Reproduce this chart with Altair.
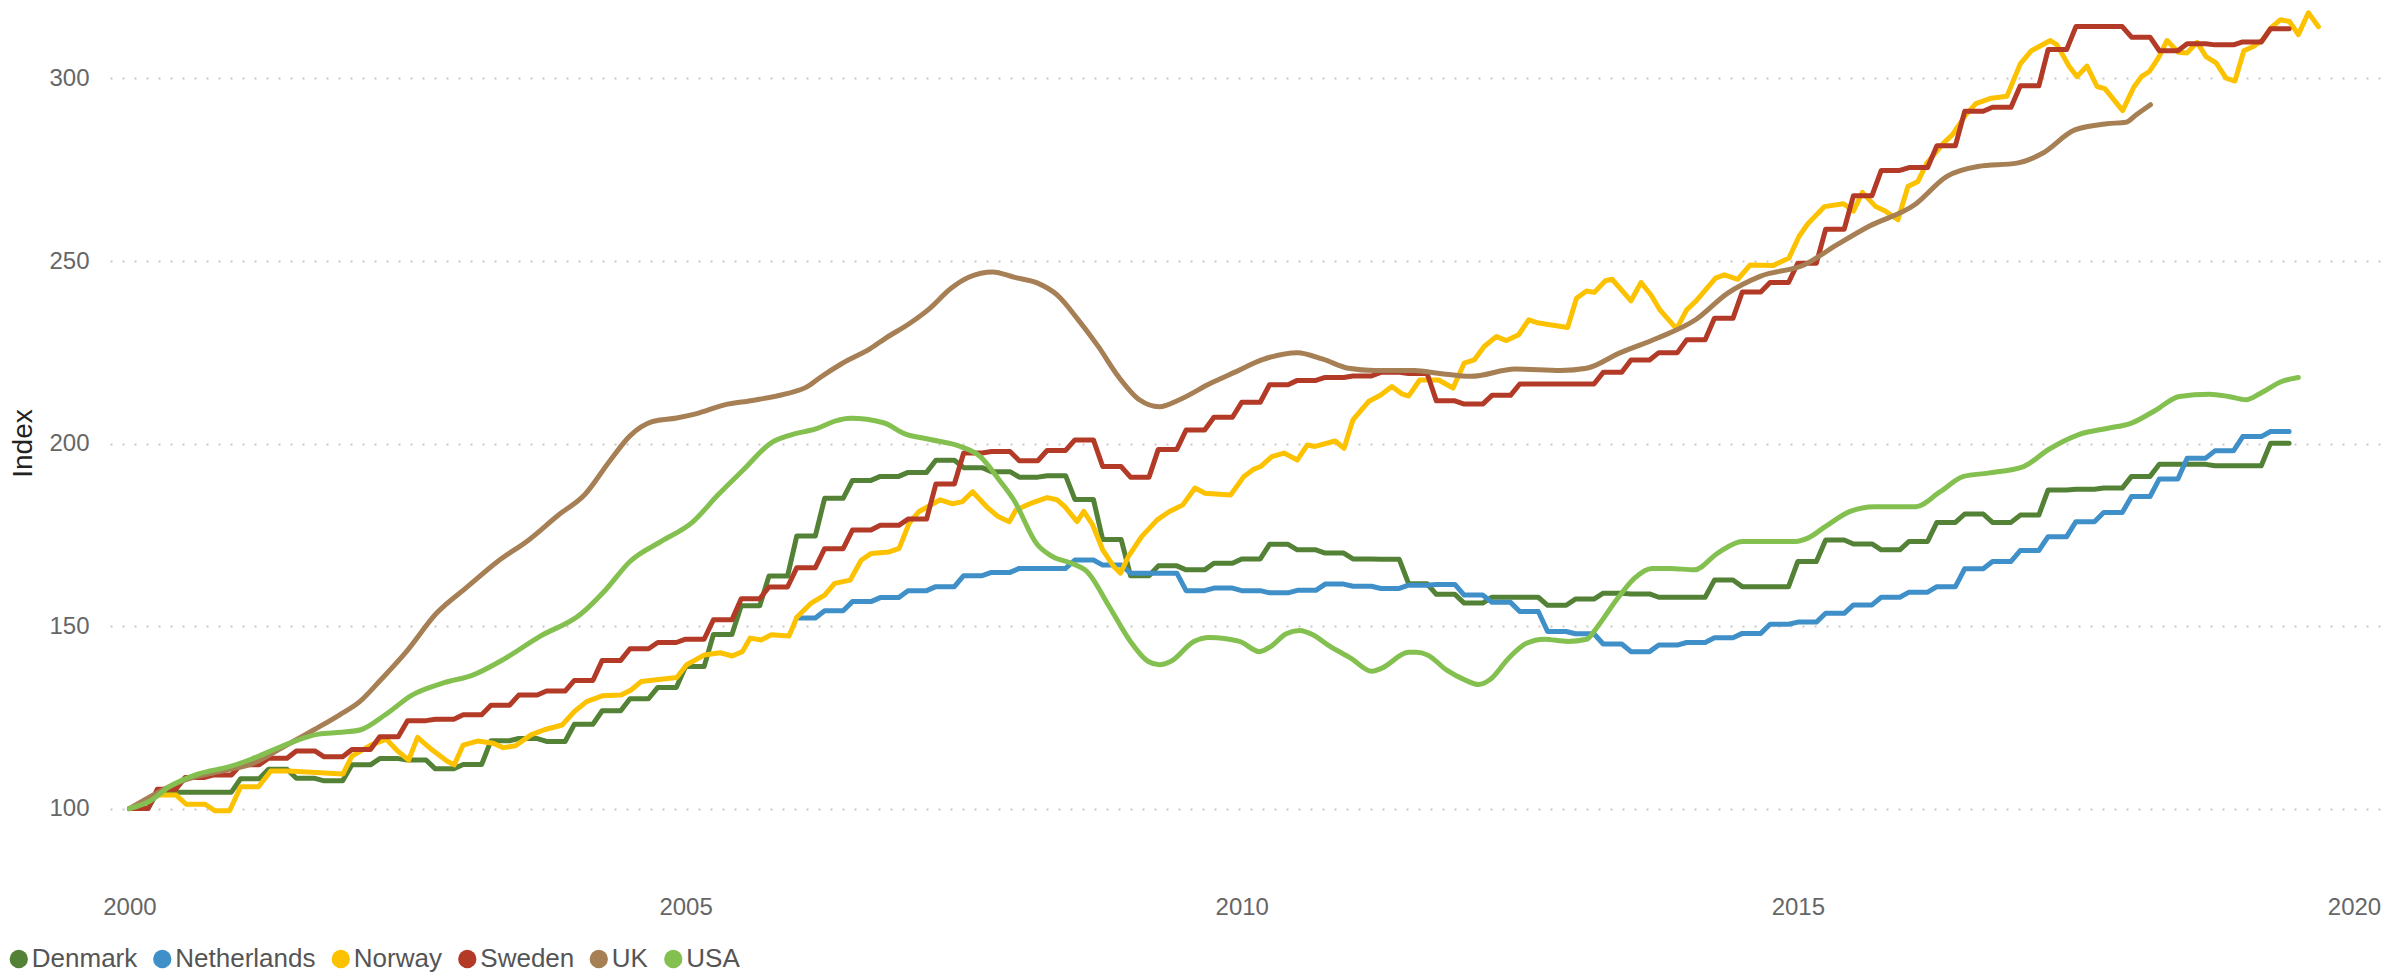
import altair as alt
import pandas as pd

countries = ["Denmark", "Netherlands", "Norway", "Sweden", "UK", "USA"]
colors = ["#538135", "#3f8fc8", "#fcc200", "#b23a27", "#a67f55", "#84c050"]
widths = [5, 5, 4.5, 5, 5, 5]

# Quarterly index values (start of series given separately)
denmark_q = [
    100.0, 104.5, 104.5, 104.5,
    108.2, 110.8, 108.3, 107.6,
    112.0, 113.7, 113.3, 110.9,
    112.1, 118.6, 119.2, 118.4,
    123.1, 126.8, 130.1, 133.2,
    138.9, 147.7, 155.6, 163.7,
    174.7, 185.0, 189.9, 191.0,
    192.1, 195.4, 193.4, 192.3,
    190.8, 191.2, 184.7, 173.7,
    163.8, 166.5, 165.4, 167.2,
    168.4, 172.4, 170.9, 170.0,
    168.4, 168.3, 161.6, 158.7,
    156.3, 157.9, 157.9, 155.7,
    157.4, 159.0, 158.8, 157.9,
    157.9, 162.6, 160.8, 160.8,
    167.7, 173.6, 172.5, 170.9,
    173.2, 178.4, 180.7, 178.4,
    180.4, 187.3, 187.5, 187.8,
    191.0, 194.3, 194.3, 193.9,
    193.9, 200.1,
]
denmark_start = 2000.0

sweden_q = [
    100.0, 105.3, 108.5, 109.2,
    112.0, 113.8, 115.8, 114.2,
    116.2, 119.7, 124.1, 124.5,
    125.7, 128.3, 131.1, 132.2,
    135.1, 140.6, 143.8, 145.5,
    146.4, 151.7, 157.5, 160.7,
    166.0, 171.2, 176.3, 177.6,
    179.3, 188.9, 197.4, 197.8,
    195.3, 198.1, 201.0, 193.7,
    190.8, 198.4, 203.7, 207.2,
    211.3, 216.1, 217.3, 218.1,
    218.5, 219.5, 219.2, 211.7,
    210.8, 213.2, 216.3, 216.3,
    216.3, 219.5, 222.9, 224.9,
    228.4, 234.3, 241.5, 244.1,
    249.4, 258.7, 267.9, 274.8,
    275.6, 281.6, 291.0, 292.1,
    298.0, 307.9, 314.2, 314.2,
    311.3, 307.6, 309.5, 309.2,
    310.0, 313.6,
]
sweden_start = 2000.0

netherlands_q = [
    152.2, 154.2, 156.7, 157.8,
    159.7, 160.8, 163.8, 164.7,
    165.8, 165.8, 168.1, 166.7,
    164.5, 164.5, 159.7, 160.4,
    159.7, 159.1, 159.8, 161.5,
    160.9, 160.3, 161.2, 161.4,
    158.5, 156.5, 154.0, 148.5,
    147.9, 145.1, 143.0, 144.8,
    145.5, 146.8, 148.0, 150.5,
    151.1, 153.5, 155.8, 157.9,
    159.3, 160.8, 165.7, 167.7,
    170.7, 174.5, 178.6, 181.1,
    185.5, 190.3, 196.0, 198.0,
    201.9, 203.3,
]
netherlands_start = 2006.0

norway_t = [
    2000.0, 2000.26, 2000.42, 2000.51, 2000.68, 2000.77, 2000.9, 2001.0, 2001.16, 2001.27,
    2001.43, 2001.92, 2002.0, 2002.17, 2002.31, 2002.4, 2002.51, 2002.59, 2002.72, 2002.86,
    2002.92, 2003.0, 2003.13, 2003.27, 2003.36, 2003.47, 2003.61, 2003.73, 2003.89, 2004.0,
    2004.11, 2004.25, 2004.42, 2004.51, 2004.6, 2004.74, 2004.92, 2005.01, 2005.17, 2005.31,
    2005.42, 2005.51, 2005.58, 2005.68, 2005.77, 2005.93, 2006.0, 2006.13, 2006.25, 2006.34,
    2006.48, 2006.58, 2006.67, 2006.83, 2006.92, 2007.01, 2007.1, 2007.29, 2007.4, 2007.49,
    2007.58, 2007.72, 2007.81, 2007.91, 2007.97, 2008.11, 2008.25, 2008.34, 2008.41, 2008.52,
    2008.58, 2008.66, 2008.75, 2008.85, 2008.91, 2008.98, 2009.1, 2009.24, 2009.35, 2009.47,
    2009.58, 2009.67, 2009.9, 2010.02, 2010.11, 2010.17, 2010.27, 2010.38, 2010.5, 2010.59,
    2010.66, 2010.84, 2010.92, 2011.0, 2011.14, 2011.25, 2011.35, 2011.44, 2011.5, 2011.6,
    2011.77, 2011.9, 2012.0, 2012.09, 2012.18, 2012.29, 2012.38, 2012.49, 2012.58, 2012.67,
    2012.93, 2013.01, 2013.1, 2013.17, 2013.27, 2013.33, 2013.5, 2013.59, 2013.68, 2013.76,
    2013.91, 2014.0, 2014.08, 2014.26, 2014.34, 2014.46, 2014.57, 2014.78, 2014.92, 2015.01,
    2015.09, 2015.24, 2015.41, 2015.5, 2015.58, 2015.7, 2015.79, 2015.9, 2015.99, 2016.08,
    2016.16, 2016.31, 2016.39, 2016.51, 2016.6, 2016.74, 2016.88, 2016.94, 2017.0, 2017.1,
    2017.27, 2017.33, 2017.44, 2017.51, 2017.6, 2017.69, 2017.76, 2017.92, 2018.02, 2018.09,
    2018.16, 2018.24, 2018.32, 2018.42, 2018.5, 2018.59, 2018.67, 2018.76, 2018.85, 2018.93,
    2019.01, 2019.1, 2019.18, 2019.25, 2019.34, 2019.42, 2019.5, 2019.59, 2019.68,
]
norway_v = [
    100.0, 103.7, 103.7, 101.2, 101.2, 99.4, 99.4, 106.0, 106.0, 110.3,
    110.3, 109.5, 114.4, 117.4, 119.0, 116.1, 113.3, 119.5, 116.1, 112.9,
    112.0, 117.4, 118.5, 117.9, 116.7, 117.2, 120.2, 121.6, 122.9, 126.6,
    129.3, 130.9, 131.1, 132.5, 134.8, 135.3, 135.9, 139.4, 142.1, 142.7,
    141.8, 143.0, 146.7, 146.2, 147.6, 147.3, 152.4, 156.3, 158.5, 161.7,
    162.6, 168.1, 169.9, 170.3, 171.3, 178.2, 181.4, 184.6, 183.5, 184.1,
    186.8, 182.3, 180.0, 178.6, 181.8, 183.7, 185.2, 184.6, 182.7, 178.6,
    181.4, 177.7, 170.9, 166.3, 164.5, 169.0, 174.5, 179.1, 181.4, 183.2,
    187.8, 186.4, 185.9, 191.0, 193.0, 193.7, 196.4, 197.4, 195.5, 199.6,
    199.2, 200.7, 198.7, 206.5, 211.5, 213.3, 215.6, 213.6, 213.0, 217.4,
    217.4, 215.2, 222.0, 222.9, 226.6, 229.3, 228.2, 229.8, 233.9, 233.0,
    231.8, 239.8, 241.8, 241.4, 244.6, 245.0, 239.1, 244.1, 240.7, 236.6,
    231.4, 236.6, 238.9, 245.3, 246.2, 245.0, 248.9, 248.8, 250.8, 256.7,
    260.2, 264.9, 265.7, 263.7, 268.8, 264.9, 263.6, 261.3, 270.4, 271.8,
    276.8, 282.3, 284.6, 290.0, 293.1, 294.6, 295.1, 299.6, 304.0, 307.6,
    310.4, 309.2, 303.3, 300.5, 303.4, 297.8, 297.2, 291.2, 297.6, 300.5,
    301.9, 305.6, 310.4, 307.2, 307.0, 309.9, 306.0, 304.3, 300.1, 299.3,
    307.6, 308.8, 310.6, 313.8, 316.1, 315.6, 312.0, 318.0, 314.2,
]

uk_t = [
    2000.0, 2000.5, 2000.88, 2001.11, 2001.39, 2001.66, 2001.89, 2002.07, 2002.26, 2002.49,
    2002.76, 2003.04, 2003.31, 2003.59, 2003.86, 2004.09, 2004.32, 2004.5, 2004.7, 2004.92,
    2005.1, 2005.35, 2005.6, 2005.9, 2006.09, 2006.2, 2006.41, 2006.66, 2006.8, 2007.01,
    2007.18, 2007.39, 2007.55, 2007.76, 2007.96, 2008.16, 2008.34, 2008.52, 2008.71, 2008.89,
    2009.08, 2009.26, 2009.44, 2009.72, 2009.95, 2010.18, 2010.5, 2010.73, 2010.96, 2011.19,
    2011.55, 2011.78, 2012.06, 2012.46, 2012.87, 2013.1, 2013.39, 2013.74, 2014.08, 2014.37,
    2014.66, 2015.06, 2015.35, 2015.64, 2016.05, 2016.34, 2016.62, 2016.97, 2017.2, 2017.49,
    2017.78, 2017.95, 2018.04, 2018.17,
]
uk_v = [
    100.0, 107.9, 110.6, 112.4, 117.0, 121.6, 125.7, 129.3, 135.3, 143.0,
    153.5, 160.8, 167.7, 173.6, 180.5, 185.9, 195.3, 202.1, 206.0, 207.0,
    208.2, 210.6, 211.8, 213.6, 215.5, 217.9, 222.0, 226.0, 228.9, 232.8,
    236.6, 242.6, 245.6, 247.0, 245.5, 244.0, 240.7, 234.3, 226.6, 218.4,
    212.0, 210.1, 212.0, 216.5, 219.7, 222.9, 224.9, 223.1, 220.6, 220.0,
    220.0, 219.2, 218.4, 220.4, 220.0, 220.6, 224.7, 228.9, 233.9, 241.2,
    245.8, 249.0, 254.4, 259.5, 265.4, 273.2, 275.9, 276.8, 279.5, 285.9,
    287.6, 288.0, 290.0, 292.8,
]

usa_t = [
    2000.0, 2000.18, 2000.36, 2000.62, 2000.9, 2001.1, 2001.38, 2001.7, 2001.91, 2002.08,
    2002.3, 2002.54, 2002.83, 2003.08, 2003.37, 2003.69, 2004.05, 2004.28, 2004.5, 2004.78,
    2005.06, 2005.29, 2005.52, 2005.77, 2005.95, 2006.17, 2006.35, 2006.48, 2006.78, 2006.96,
    2007.2, 2007.47, 2007.65, 2007.82, 2007.95, 2008.16, 2008.3, 2008.47, 2008.61, 2008.81,
    2008.99, 2009.16, 2009.26, 2009.36, 2009.57, 2009.71, 2009.98, 2010.16, 2010.26, 2010.4,
    2010.52, 2010.64, 2010.78, 2010.98, 2011.17, 2011.26, 2011.5, 2011.57, 2011.67, 2011.84,
    2012.01, 2012.13, 2012.23, 2012.4, 2012.56, 2012.72, 2012.93, 2013.1, 2013.2, 2013.37,
    2013.53, 2013.69, 2013.85, 2014.07, 2014.28, 2014.5, 2014.77, 2014.98, 2015.09, 2015.25,
    2015.47, 2015.69, 2016.06, 2016.28, 2016.49, 2016.71, 2017.03, 2017.25, 2017.52, 2017.79,
    2018.0, 2018.22, 2018.43, 2018.7, 2018.87, 2019.03, 2019.16, 2019.35, 2019.5,
]
usa_v = [
    100.0, 102.0, 106.0, 109.5, 111.5, 113.6, 117.2, 120.4, 120.9, 121.6,
    125.7, 131.1, 134.5, 136.5, 141.0, 147.2, 153.1, 159.9, 167.7, 173.2,
    178.4, 185.9, 192.8, 200.2, 202.4, 204.0, 206.2, 206.9, 205.7, 202.8,
    201.1, 199.2, 196.4, 190.0, 184.6, 172.4, 169.0, 167.2, 164.9, 155.3,
    146.2, 140.3, 139.4, 140.3, 145.8, 146.9, 145.8, 143.0, 144.4, 147.9,
    148.8, 147.6, 144.7, 141.2, 137.6, 138.5, 142.8, 142.8, 142.1, 138.0,
    135.2, 134.0, 135.3, 141.2, 145.3, 146.4, 145.8, 146.4, 149.9, 157.2,
    163.1, 165.8, 165.8, 165.4, 170.0, 173.2, 173.2, 173.2, 174.1, 177.3,
    181.4, 182.7, 182.7, 186.8, 191.0, 191.9, 193.7, 198.3, 202.4, 204.2,
    205.6, 209.2, 212.9, 213.5, 212.9, 212.0, 213.8, 217.0, 218.1,
]

year_ticks = [2000, 2005, 2010, 2015, 2020]
index_ticks = [100, 150, 200, 250, 300]

# ---- build long table ----
rows = []


def add_quarterly(name, start, vals):
    for i, v in enumerate(vals):
        t0 = start + i / 4
        rows.append({"country": name, "t": t0, "value": v})
        rows.append({"country": name, "t": t0 + 2 / 12, "value": v})


def add_points(name, ts, vs):
    for t, v in zip(ts, vs):
        rows.append({"country": name, "t": t, "value": v})


add_quarterly("Denmark", denmark_start, denmark_q)
add_quarterly("Netherlands", netherlands_start, netherlands_q)
add_points("Norway", norway_t, norway_v)
add_quarterly("Sweden", sweden_start, sweden_q)
df_lin = pd.DataFrame(rows)

rows = []
add_points("UK", uk_t, uk_v)
add_points("USA", usa_t, usa_v)
df_smooth = pd.DataFrame(rows)

FONT = "Liberation Sans"

x_enc = alt.X(
    "t:Q",
    scale=alt.Scale(domain=[1999.825, 2020.234], nice=False, zero=False),
    axis=alt.Axis(
        values=year_ticks, format="d", title=None, grid=False, domain=False,
        ticks=False, tickSize=0, labelPadding=13, labelFontSize=24,
        labelColor="#666666", labelFont=FONT,
    ),
)
y_enc = alt.Y(
    "value:Q",
    scale=alt.Scale(domain=[79.9, 319.3], nice=False, zero=False),
    axis=alt.Axis(
        values=index_ticks, title="Index", grid=True, gridDash=[2, 10],
        gridColor="#c8c8c8", gridWidth=2, domain=False, ticks=False, tickSize=0,
        labelPadding=21, labelFontSize=24, labelColor="#666666", labelFont=FONT,
        titleX=-87, titleY=435, titleAngle=270, titleAlign="center",
        titleBaseline="middle", titleFontSize=28, titleColor="#222222",
        titleFont=FONT, titleFontWeight="normal",
    ),
)
color_scale = alt.Scale(domain=countries, range=colors)
color_line = alt.Color("country:N", scale=color_scale, legend=None)
color_legend = alt.Color(
    "country:N",
    scale=color_scale,
    legend=alt.Legend(
        title=None, orient="none", legendX=-104.2, legendY=938,
        direction="horizontal", symbolType="circle", symbolSize=335,
        symbolStrokeWidth=0, symbolOpacity=1, labelFontSize=26, labelFont=FONT,
        labelColor="#555555", labelOffset=0, columnPadding=11.5, padding=0,
        labelLimit=500,
    ),
)
width_enc = alt.StrokeWidth(
    "country:N", scale=alt.Scale(domain=countries, range=widths), legend=None
)

lin = alt.Chart(df_lin).mark_line(
    interpolate="linear", strokeCap="round", strokeJoin="round"
).encode(x=x_enc, y=y_enc, color=color_line, strokeWidth=width_enc)

smooth = alt.Chart(df_smooth).mark_line(
    interpolate="monotone", strokeCap="round", strokeJoin="round"
).encode(x=x_enc, y=y_enc, color=color_line, strokeWidth=width_enc)

# legend-only layer: filled circles, no rows drawn
legend_layer = alt.Chart(df_smooth).transform_filter("false").mark_circle(
    opacity=1
).encode(x=x_enc, y=y_enc, color=color_legend)

chart = alt.layer(lin, smooth, legend_layer).resolve_legend(
    color="independent", strokeWidth="independent"
).properties(
    width=2270, height=874,
    background="white",
    autosize=alt.AutoSizeParams(type="none"),
    padding={"left": 102, "top": 0, "right": 19, "bottom": 90},
).configure_view(stroke=None)

chart.save("out.html", embed_options={"renderer": "svg", "actions": False})
